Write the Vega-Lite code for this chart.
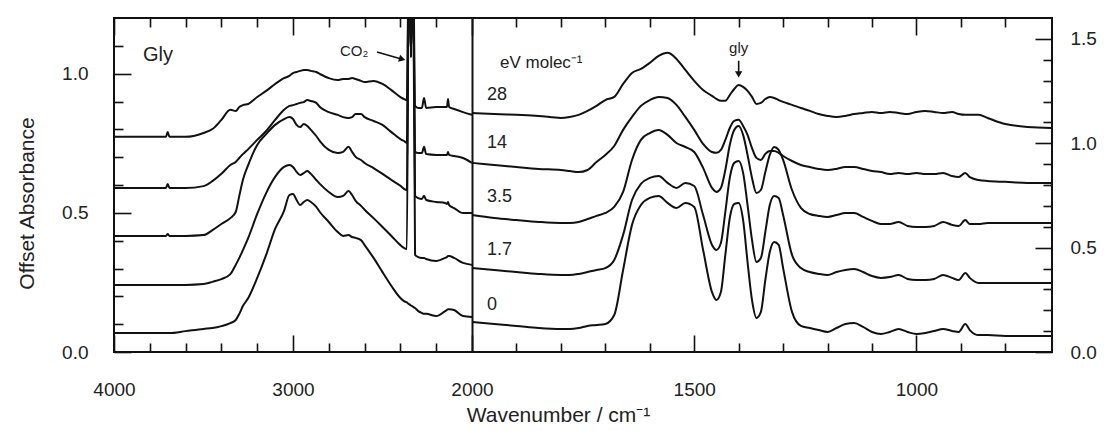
{
  "$schema": "https://vega.github.io/schema/vega-lite/v6.json",
  "width": 938,
  "height": 334,
  "autosize": {"type": "none"},
  "padding": {"left": 114, "top": 18, "right": 52, "bottom": 79},
  "background": "white",
  "config": {
    "view": {"stroke": "#111", "strokeWidth": 2},
    "font": "Liberation Sans",
    "axis": {"labelFont": "Liberation Sans", "titleFont": "Liberation Sans", "labelColor": "#222", "titleColor": "#222", "tickColor": "#111", "tickWidth": 1.6, "domain": false, "grid": false, "titleFontWeight": "normal"},
    "text": {"font": "Liberation Sans", "color": "#222"}
  },
  "datasets": {
    "left": [
      {"w":4000,"e28":0.773,"e14":0.589,"e35":0.417,"e17":0.241,"e0":0.068},
      {"w":3900,"e28":0.773,"e14":0.589,"e35":0.417,"e17":0.241,"e0":0.068},
      {"w":3800,"e28":0.773,"e14":0.589,"e35":0.417,"e17":0.241,"e0":0.068},
      {"w":3710,"e28":0.773,"e14":0.589,"e35":0.417,"e17":0.241,"e0":0.068},
      {"w":3700,"e28":0.790,"e14":0.604,"e35":0.424,"e17":0.241,"e0":0.068},
      {"w":3690,"e28":0.773,"e14":0.589,"e35":0.417,"e17":0.241,"e0":0.068},
      {"w":3600,"e28":0.773,"e14":0.589,"e35":0.417,"e17":0.241,"e0":0.075},
      {"w":3500,"e28":0.787,"e14":0.596,"e35":0.420,"e17":0.244,"e0":0.083},
      {"w":3450,"e28":0.801,"e14":0.614,"e35":0.438,"e17":0.252,"e0":0.086},
      {"w":3400,"e28":0.834,"e14":0.640,"e35":0.460,"e17":0.262,"e0":0.093},
      {"w":3350,"e28":0.870,"e14":0.672,"e35":0.481,"e17":0.280,"e0":0.104},
      {"w":3320,"e28":0.866,"e14":0.683,"e35":0.503,"e17":0.313,"e0":0.115},
      {"w":3300,"e28":0.880,"e14":0.697,"e35":0.561,"e17":0.338,"e0":0.137},
      {"w":3280,"e28":0.887,"e14":0.711,"e35":0.618,"e17":0.366,"e0":0.165},
      {"w":3250,"e28":0.891,"e14":0.729,"e35":0.672,"e17":0.410,"e0":0.194},
      {"w":3200,"e28":0.916,"e14":0.762,"e35":0.744,"e17":0.496,"e0":0.266},
      {"w":3150,"e28":0.938,"e14":0.794,"e35":0.783,"e17":0.571,"e0":0.349},
      {"w":3100,"e28":0.963,"e14":0.834,"e35":0.816,"e17":0.629,"e0":0.442},
      {"w":3050,"e28":0.984,"e14":0.870,"e35":0.837,"e17":0.665,"e0":0.507},
      {"w":3020,"e28":0.992,"e14":0.884,"e35":0.844,"e17":0.672,"e0":0.564},
      {"w":3000,"e28":1.002,"e14":0.887,"e35":0.837,"e17":0.665,"e0":0.568},
      {"w":2980,"e28":1.006,"e14":0.891,"e35":0.816,"e17":0.647,"e0":0.546},
      {"w":2960,"e28":1.010,"e14":0.895,"e35":0.808,"e17":0.636,"e0":0.528},
      {"w":2940,"e28":1.013,"e14":0.898,"e35":0.819,"e17":0.643,"e0":0.539},
      {"w":2920,"e28":1.013,"e14":0.905,"e35":0.812,"e17":0.650,"e0":0.546},
      {"w":2900,"e28":1.010,"e14":0.902,"e35":0.798,"e17":0.640,"e0":0.539},
      {"w":2870,"e28":1.006,"e14":0.895,"e35":0.776,"e17":0.618,"e0":0.521},
      {"w":2850,"e28":0.999,"e14":0.880,"e35":0.758,"e17":0.604,"e0":0.503},
      {"w":2800,"e28":0.984,"e14":0.862,"e35":0.726,"e17":0.575,"e0":0.467},
      {"w":2750,"e28":0.977,"e14":0.852,"e35":0.715,"e17":0.557,"e0":0.431},
      {"w":2720,"e28":0.981,"e14":0.844,"e35":0.719,"e17":0.561,"e0":0.417},
      {"w":2690,"e28":0.981,"e14":0.841,"e35":0.737,"e17":0.578,"e0":0.420},
      {"w":2670,"e28":0.984,"e14":0.844,"e35":0.719,"e17":0.564,"e0":0.413},
      {"w":2650,"e28":0.981,"e14":0.855,"e35":0.701,"e17":0.543,"e0":0.410},
      {"w":2620,"e28":0.974,"e14":0.855,"e35":0.690,"e17":0.525,"e0":0.402},
      {"w":2600,"e28":0.970,"e14":0.844,"e35":0.679,"e17":0.511,"e0":0.384},
      {"w":2550,"e28":0.974,"e14":0.830,"e35":0.661,"e17":0.481,"e0":0.338},
      {"w":2500,"e28":0.963,"e14":0.816,"e35":0.640,"e17":0.449,"e0":0.287},
      {"w":2450,"e28":0.941,"e14":0.790,"e35":0.618,"e17":0.417,"e0":0.237},
      {"w":2400,"e28":0.916,"e14":0.765,"e35":0.597,"e17":0.384,"e0":0.194},
      {"w":2380,"e28":0.909,"e14":0.758,"e35":0.586,"e17":0.374,"e0":0.183},
      {"w":2364,"e28":0.905,"e14":0.751,"e35":0.582,"e17":0.370,"e0":0.178},
      {"w":2352,"e28":1.5,"e14":1.5,"e35":1.5,"e17":1.5,"e0":0.172},
      {"w":2341,"e28":1.06,"e14":1.06,"e35":1.06,"e17":1.06,"e0":0.167},
      {"w":2330,"e28":1.5,"e14":1.5,"e35":1.5,"e17":1.5,"e0":0.163},
      {"w":2318,"e28":0.884,"e14":0.719,"e35":0.561,"e17":0.349,"e0":0.158},
      {"w":2300,"e28":0.877,"e14":0.715,"e35":0.553,"e17":0.341,"e0":0.147},
      {"w":2280,"e28":0.877,"e14":0.715,"e35":0.550,"e17":0.338,"e0":0.140},
      {"w":2268,"e28":0.913,"e14":0.737,"e35":0.561,"e17":0.338,"e0":0.137},
      {"w":2256,"e28":0.877,"e14":0.711,"e35":0.546,"e17":0.334,"e0":0.137},
      {"w":2200,"e28":0.880,"e14":0.708,"e35":0.539,"e17":0.327,"e0":0.129},
      {"w":2150,"e28":0.880,"e14":0.708,"e35":0.535,"e17":0.338,"e0":0.147},
      {"w":2140,"e28":0.880,"e14":0.708,"e35":0.532,"e17":0.341,"e0":0.151},
      {"w":2134,"e28":0.909,"e14":0.719,"e35":0.539,"e17":0.345,"e0":0.154},
      {"w":2128,"e28":0.880,"e14":0.708,"e35":0.528,"e17":0.345,"e0":0.154},
      {"w":2100,"e28":0.873,"e14":0.704,"e35":0.517,"e17":0.338,"e0":0.151},
      {"w":2050,"e28":0.862,"e14":0.697,"e35":0.499,"e17":0.320,"e0":0.129},
      {"w":2000,"e28":0.852,"e14":0.679,"e35":0.499,"e17":0.313,"e0":0.126}
    ],
    "right": [
      {"w":2000,"e28":1.145,"e14":0.906,"e35":0.656,"e17":0.402,"e0":0.144},
      {"w":1950,"e28":1.140,"e14":0.896,"e35":0.642,"e17":0.393,"e0":0.134},
      {"w":1900,"e28":1.136,"e14":0.886,"e35":0.632,"e17":0.383,"e0":0.125},
      {"w":1850,"e28":1.131,"e14":0.877,"e35":0.623,"e17":0.374,"e0":0.115},
      {"w":1800,"e28":1.121,"e14":0.872,"e35":0.618,"e17":0.369,"e0":0.110},
      {"w":1780,"e28":1.126,"e14":0.867,"e35":0.618,"e17":0.369,"e0":0.110},
      {"w":1760,"e28":1.136,"e14":0.862,"e35":0.623,"e17":0.374,"e0":0.115},
      {"w":1740,"e28":1.155,"e14":0.872,"e35":0.637,"e17":0.383,"e0":0.125},
      {"w":1720,"e28":1.179,"e14":0.910,"e35":0.652,"e17":0.393,"e0":0.129},
      {"w":1700,"e28":1.207,"e14":0.944,"e35":0.666,"e17":0.402,"e0":0.134},
      {"w":1680,"e28":1.222,"e14":0.987,"e35":0.695,"e17":0.441,"e0":0.177},
      {"w":1660,"e28":1.284,"e14":1.064,"e35":0.767,"e17":0.561,"e0":0.393},
      {"w":1640,"e28":1.337,"e14":1.126,"e35":0.920,"e17":0.728,"e0":0.609},
      {"w":1620,"e28":1.356,"e14":1.179,"e35":1.016,"e17":0.805,"e0":0.704},
      {"w":1600,"e28":1.385,"e14":1.207,"e35":1.049,"e17":0.834,"e0":0.738},
      {"w":1580,"e28":1.418,"e14":1.222,"e35":1.064,"e17":0.843,"e0":0.747},
      {"w":1560,"e28":1.433,"e14":1.217,"e35":1.040,"e17":0.810,"e0":0.714},
      {"w":1540,"e28":1.404,"e14":1.184,"e35":1.001,"e17":0.786,"e0":0.690},
      {"w":1520,"e28":1.351,"e14":1.126,"e35":0.982,"e17":0.810,"e0":0.714},
      {"w":1500,"e28":1.299,"e14":1.064,"e35":0.958,"e17":0.795,"e0":0.695},
      {"w":1480,"e28":1.255,"e14":0.997,"e35":0.882,"e17":0.656,"e0":0.489},
      {"w":1460,"e28":1.227,"e14":0.958,"e35":0.786,"e17":0.513,"e0":0.287},
      {"w":1450,"e28":1.212,"e14":0.954,"e35":0.767,"e17":0.489,"e0":0.249},
      {"w":1440,"e28":1.203,"e14":0.968,"e35":0.786,"e17":0.522,"e0":0.287},
      {"w":1430,"e28":1.203,"e14":1.016,"e35":0.872,"e17":0.671,"e0":0.465},
      {"w":1420,"e28":1.231,"e14":1.073,"e35":0.992,"e17":0.834,"e0":0.642},
      {"w":1410,"e28":1.260,"e14":1.107,"e35":1.064,"e17":0.906,"e0":0.709},
      {"w":1400,"e28":1.279,"e14":1.112,"e35":1.083,"e17":0.915,"e0":0.714},
      {"w":1390,"e28":1.270,"e14":1.083,"e35":1.040,"e17":0.858,"e0":0.632},
      {"w":1380,"e28":1.251,"e14":1.040,"e35":0.944,"e17":0.704,"e0":0.431},
      {"w":1370,"e28":1.222,"e14":0.977,"e35":0.834,"e17":0.537,"e0":0.249},
      {"w":1360,"e28":1.188,"e14":0.930,"e35":0.762,"e17":0.431,"e0":0.163},
      {"w":1350,"e28":1.193,"e14":0.920,"e35":0.776,"e17":0.450,"e0":0.192},
      {"w":1340,"e28":1.212,"e14":0.949,"e35":0.862,"e17":0.575,"e0":0.345},
      {"w":1330,"e28":1.222,"e14":0.963,"e35":0.944,"e17":0.704,"e0":0.479},
      {"w":1320,"e28":1.217,"e14":0.963,"e35":0.982,"e17":0.747,"e0":0.527},
      {"w":1310,"e28":1.207,"e14":0.954,"e35":0.968,"e17":0.738,"e0":0.513},
      {"w":1300,"e28":1.198,"e14":0.939,"e35":0.920,"e17":0.656,"e0":0.402},
      {"w":1280,"e28":1.184,"e14":0.915,"e35":0.776,"e17":0.465,"e0":0.192},
      {"w":1260,"e28":1.169,"e14":0.896,"e35":0.690,"e17":0.402,"e0":0.125},
      {"w":1240,"e28":1.155,"e14":0.886,"e35":0.661,"e17":0.383,"e0":0.115},
      {"w":1220,"e28":1.140,"e14":0.877,"e35":0.652,"e17":0.374,"e0":0.105},
      {"w":1200,"e28":1.131,"e14":0.872,"e35":0.647,"e17":0.369,"e0":0.096},
      {"w":1180,"e28":1.126,"e14":0.877,"e35":0.656,"e17":0.383,"e0":0.115},
      {"w":1160,"e28":1.131,"e14":0.886,"e35":0.666,"e17":0.393,"e0":0.134},
      {"w":1140,"e28":1.140,"e14":0.886,"e35":0.666,"e17":0.398,"e0":0.139},
      {"w":1120,"e28":1.145,"e14":0.877,"e35":0.647,"e17":0.383,"e0":0.120},
      {"w":1100,"e28":1.150,"e14":0.867,"e35":0.628,"e17":0.364,"e0":0.096},
      {"w":1080,"e28":1.145,"e14":0.862,"e35":0.613,"e17":0.355,"e0":0.086},
      {"w":1060,"e28":1.150,"e14":0.853,"e35":0.613,"e17":0.359,"e0":0.096},
      {"w":1040,"e28":1.145,"e14":0.858,"e35":0.623,"e17":0.369,"e0":0.110},
      {"w":1020,"e28":1.140,"e14":0.853,"e35":0.604,"e17":0.350,"e0":0.096},
      {"w":1000,"e28":1.150,"e14":0.858,"e35":0.599,"e17":0.345,"e0":0.086},
      {"w":980,"e28":1.155,"e14":0.853,"e35":0.599,"e17":0.345,"e0":0.091},
      {"w":960,"e28":1.150,"e14":0.853,"e35":0.604,"e17":0.350,"e0":0.101},
      {"w":940,"e28":1.145,"e14":0.858,"e35":0.623,"e17":0.369,"e0":0.110},
      {"w":920,"e28":1.150,"e14":0.843,"e35":0.609,"e17":0.355,"e0":0.101},
      {"w":905,"e28":1.140,"e14":0.838,"e35":0.604,"e17":0.345,"e0":0.096},
      {"w":890,"e28":1.136,"e14":0.858,"e35":0.632,"e17":0.379,"e0":0.134},
      {"w":880,"e28":1.136,"e14":0.838,"e35":0.613,"e17":0.355,"e0":0.105},
      {"w":860,"e28":1.136,"e14":0.824,"e35":0.613,"e17":0.331,"e0":0.081},
      {"w":840,"e28":1.121,"e14":0.819,"e35":0.618,"e17":0.331,"e0":0.081},
      {"w":800,"e28":1.092,"e14":0.815,"e35":0.618,"e17":0.331,"e0":0.077},
      {"w":750,"e28":1.078,"e14":0.810,"e35":0.618,"e17":0.331,"e0":0.077},
      {"w":695,"e28":1.073,"e14":0.810,"e35":0.618,"e17":0.331,"e0":0.077}
    ]
  },
  "resolve": {"scale": {"y": "independent"}, "axis": {"x": "independent", "y": "independent"}},
  "layer": [
    {
      "data": {"name": "left"},
      "transform": [{"fold": ["e28", "e14", "e35", "e17", "e0"], "as": ["curve", "a"]}],
      "mark": {"type": "line", "color": "#111", "strokeWidth": 2, "interpolate": "monotone", "clip": true},
      "encoding": {
        "x": {"field": "w", "type": "quantitative",
          "scale": {"domain": [4000, 2000, 695], "range": [0, 358, 938], "nice": false, "zero": false},
          "axis": {
            "orient": "bottom",
            "values": [4000,3800,3600,3400,3200,3000,2800,2600,2400,2200,2000,1900,1800,1700,1600,1500,1400,1300,1200,1100,1000,900,800],
            "format": "d",
            "labelExpr": "datum.value == 4000 || datum.value == 3000 || datum.value == 2000 || datum.value == 1500 || datum.value == 1000 ? datum.label : ''",
            "tickSize": {"condition": {"test": "datum.value == 4000 || datum.value == 3000 || datum.value == 2000 || datum.value == 1500 || datum.value == 1000", "value": -17}, "value": -9},
            "labelPadding": 45,
            "labelFontSize": 19,
            "labelOverlap": false,
            "labelFlush": false,
            "labelBound": false,
            "grid": true,
            "gridColor": "#111",
            "gridWidth": 2,
            "gridOpacity": {"condition": {"test": "datum.value == 2000", "value": 1}, "value": 0},
            "title": "Wavenumber / cm⁻¹",
            "titleFontSize": 21,
            "titleX": 444,
            "titleY": 69,
            "titleAlign": "center",
            "titleBaseline": "alphabetic"
          }
        },
        "y": {"field": "a", "type": "quantitative",
          "scale": {"domain": [0, 1.2], "nice": false, "zero": false},
          "axis": {
            "orient": "left",
            "values": [0,0.1,0.2,0.3,0.4,0.5,0.6,0.7,0.8,0.9,1,1.1],
            "format": ".1f",
            "labelExpr": "datum.value == 0 || datum.value == 0.5 || datum.value == 1 ? datum.label : ''",
            "tickSize": {"condition": {"test": "datum.value == 0 || datum.value == 0.5 || datum.value == 1", "value": -17}, "value": -9},
            "labelPadding": 43,
            "labelFontSize": 19,
            "labelOverlap": false,
            "labelFlush": false,
            "labelBound": false,
            "title": "Offset Absorbance",
            "titleFontSize": 21,
            "titleX": -81,
            "titleY": 185,
            "titleAngle": -90,
            "titleAlign": "center",
            "titleBaseline": "alphabetic"
          }
        },
        "detail": {"field": "curve"}
      }
    },
    {
      "data": {"name": "right"},
      "transform": [{"fold": ["e28", "e14", "e35", "e17", "e0"], "as": ["curve", "a"]}],
      "mark": {"type": "line", "color": "#111", "strokeWidth": 2, "interpolate": "monotone", "clip": true},
      "encoding": {
        "x": {"field": "w", "type": "quantitative",
          "scale": {"domain": [4000, 2000, 695], "range": [0, 358, 938], "nice": false, "zero": false},
          "axis": {
            "orient": "top",
            "values": [4000,3800,3600,3400,3200,3000,2800,2600,2400,2200,2000,1900,1800,1700,1600,1500,1400,1300,1200,1100,1000,900,800],
            "labels": false,
            "tickSize": {"condition": {"test": "datum.value == 4000 || datum.value == 3000 || datum.value == 2000 || datum.value == 1500 || datum.value == 1000", "value": -17}, "value": -9},
            "title": null
          }
        },
        "y": {"field": "a", "type": "quantitative",
          "scale": {"domain": [0, 1.6], "nice": false, "zero": false},
          "axis": {
            "orient": "right",
            "values": [0,0.1,0.2,0.3,0.4,0.5,0.6,0.7,0.8,0.9,1,1.1,1.2,1.3,1.4,1.5],
            "format": ".1f",
            "labelExpr": "datum.value == 0 || datum.value == 0.5 || datum.value == 1 || datum.value == 1.5 ? datum.label : ''",
            "tickSize": {"condition": {"test": "datum.value == 0 || datum.value == 0.5 || datum.value == 1 || datum.value == 1.5", "value": -17}, "value": -9},
            "labelPadding": 35,
            "labelFontSize": 19,
            "labelOverlap": false,
            "labelFlush": false,
            "labelBound": false,
            "title": null
          }
        },
        "detail": {"field": "curve"}
      }
    },
    {
      "data": {"values": [{"w": 3838, "a": 1.067, "t": "Gly"}]},
      "mark": {"type": "text", "align": "left", "baseline": "middle", "fontSize": 20},
      "encoding": {
        "x": {"field": "w", "type": "quantitative", "scale": {"domain": [4000, 2000, 695], "range": [0, 358, 938], "nice": false, "zero": false}, "axis": null},
        "y": {"field": "a", "type": "quantitative", "scale": {"domain": [0, 1.2], "nice": false, "zero": false}, "axis": null},
        "text": {"field": "t"}
      }
    },
    {
      "data": {"values": [{"w": 2659, "a": 1.08, "t": "CO₂"}]},
      "mark": {"type": "text", "align": "center", "baseline": "middle", "fontSize": 15},
      "encoding": {
        "x": {"field": "w", "type": "quantitative", "scale": {"domain": [4000, 2000, 695], "range": [0, 358, 938], "nice": false, "zero": false}, "axis": null},
        "y": {"field": "a", "type": "quantitative", "scale": {"domain": [0, 1.2], "nice": false, "zero": false}, "axis": null},
        "text": {"field": "t"}
      }
    },
    {
      "data": {"values": [{"w1": 2531, "w2": 2390, "a1": 1.078, "a2": 1.052}]},
      "mark": {"type": "rule", "color": "#111", "strokeWidth": 1.6},
      "encoding": {
        "x": {"field": "w1", "type": "quantitative", "scale": {"domain": [4000, 2000, 695], "range": [0, 358, 938], "nice": false, "zero": false}, "axis": null},
        "x2": {"field": "w2"},
        "y": {"field": "a1", "type": "quantitative", "scale": {"domain": [0, 1.2], "nice": false, "zero": false}, "axis": null},
        "y2": {"field": "a2"}
      }
    },
    {
      "data": {"values": [{"w": 2390, "a": 1.052}]},
      "mark": {"type": "point", "shape": "triangle-right", "angle": 16, "size": 55, "filled": true, "color": "#111", "opacity": 1},
      "encoding": {
        "x": {"field": "w", "type": "quantitative", "scale": {"domain": [4000, 2000, 695], "range": [0, 358, 938], "nice": false, "zero": false}, "axis": null},
        "y": {"field": "a", "type": "quantitative", "scale": {"domain": [0, 1.2], "nice": false, "zero": false}, "axis": null}
      }
    },
    {
      "data": {"values": [{"w": 1937, "a": 1.385, "t": "eV molec⁻¹"}]},
      "mark": {"type": "text", "align": "left", "baseline": "middle", "fontSize": 17},
      "encoding": {
        "x": {"field": "w", "type": "quantitative", "scale": {"domain": [4000, 2000, 695], "range": [0, 358, 938], "nice": false, "zero": false}, "axis": null},
        "y": {"field": "a", "type": "quantitative", "scale": {"domain": [0, 1.6], "nice": false, "zero": false}, "axis": null},
        "text": {"field": "t"}
      }
    },
    {
      "data": {"values": [
        {"w": 1966, "a": 1.231, "t": "28"},
        {"w": 1966, "a": 1.001, "t": "14"},
        {"w": 1966, "a": 0.743, "t": "3.5"},
        {"w": 1966, "a": 0.489, "t": "1.7"},
        {"w": 1966, "a": 0.225, "t": "0"}
      ]},
      "mark": {"type": "text", "align": "left", "baseline": "middle", "fontSize": 18},
      "encoding": {
        "x": {"field": "w", "type": "quantitative", "scale": {"domain": [4000, 2000, 695], "range": [0, 358, 938], "nice": false, "zero": false}, "axis": null},
        "y": {"field": "a", "type": "quantitative", "scale": {"domain": [0, 1.6], "nice": false, "zero": false}, "axis": null},
        "text": {"field": "t"}
      }
    },
    {
      "data": {"values": [{"w": 1400, "a": 1.457, "t": "gly"}]},
      "mark": {"type": "text", "align": "center", "baseline": "middle", "fontSize": 15},
      "encoding": {
        "x": {"field": "w", "type": "quantitative", "scale": {"domain": [4000, 2000, 695], "range": [0, 358, 938], "nice": false, "zero": false}, "axis": null},
        "y": {"field": "a", "type": "quantitative", "scale": {"domain": [0, 1.6], "nice": false, "zero": false}, "axis": null},
        "text": {"field": "t"}
      }
    },
    {
      "data": {"values": [{"w": 1400, "a1": 1.395, "a2": 1.34}]},
      "mark": {"type": "rule", "color": "#111", "strokeWidth": 1.6},
      "encoding": {
        "x": {"field": "w", "type": "quantitative", "scale": {"domain": [4000, 2000, 695], "range": [0, 358, 938], "nice": false, "zero": false}, "axis": null},
        "y": {"field": "a1", "type": "quantitative", "scale": {"domain": [0, 1.6], "nice": false, "zero": false}, "axis": null},
        "y2": {"field": "a2"}
      }
    },
    {
      "data": {"values": [{"w": 1400, "a": 1.33}]},
      "mark": {"type": "point", "shape": "triangle-down", "size": 55, "filled": true, "color": "#111", "opacity": 1},
      "encoding": {
        "x": {"field": "w", "type": "quantitative", "scale": {"domain": [4000, 2000, 695], "range": [0, 358, 938], "nice": false, "zero": false}, "axis": null},
        "y": {"field": "a", "type": "quantitative", "scale": {"domain": [0, 1.6], "nice": false, "zero": false}, "axis": null}
      }
    }
  ]
}
